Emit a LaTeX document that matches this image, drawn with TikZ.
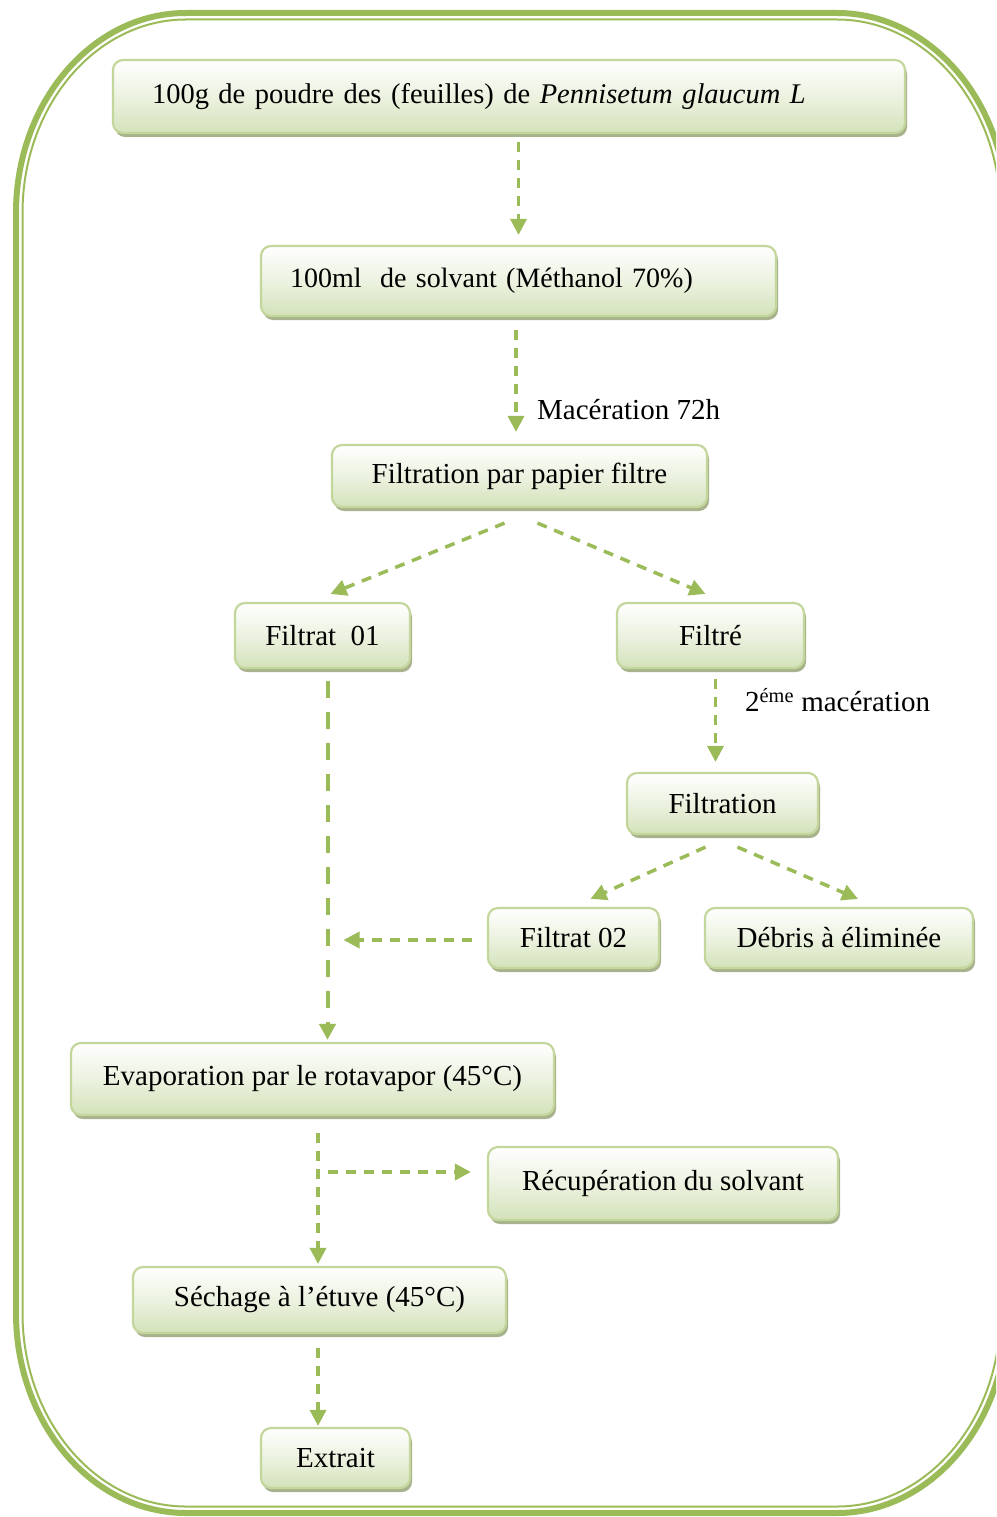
\documentclass[tikz,border=0pt]{standalone}
\usepackage{fontspec}
\setmainfont{Liberation Serif}
\usetikzlibrary{arrows.meta,calc,shadows}
\definecolor{gline}{RGB}{155,187,89}
\definecolor{bedge}{RGB}{195,214,155}
\definecolor{bfill}{RGB}{212,226,186}
\definecolor{bshadow}{RGB}{168,178,140}
\tikzset{
  stepbox/.style={draw=bedge, line width=2.2pt, rounded corners=10pt,
    top color=white, bottom color=bfill, middle color=white!55!bfill,
    general shadow={fill=bshadow, shadow xshift=2pt, shadow yshift=-4pt},
    font=\fontsize{29}{35}\selectfont, inner sep=0pt},
  flowarr/.style={draw=gline, line width=3.5pt, dash pattern=on 10pt off 8pt,
    -{Triangle[length=16pt,width=16pt]}},
  longarr/.style={flowarr, line width=4pt, dash pattern=on 17pt off 14pt},
  lbl/.style={font=\fontsize{29}{35}\selectfont, anchor=west, inner sep=0pt},
}
\begin{document}
\begin{tikzpicture}[x=1pt,y=-1pt]
\useasboundingbox (0,0) rectangle (996,1517);
\clip (0,0) rectangle (996,1517);
% frame
\draw[gline, line width=6pt]
  (186,13) -- (837,13)
  .. controls (930.9,13) and (1007,102.5) .. (1007,213)
  -- (1007,1313)
  .. controls (1007,1423.5) and (930.9,1513) .. (837,1513)
  -- (186,1513)
  .. controls (92.1,1513) and (16,1423.5) .. (16,1313)
  -- (16,213)
  .. controls (16,102.5) and (92.1,13) .. (186,13) -- cycle;
\draw[gline, line width=2pt]
  (186,19.5) -- (837,19.5)
  .. controls (927.3,19.5) and (1000.5,106.1) .. (1000.5,213)
  -- (1000.5,1313)
  .. controls (1000.5,1419.9) and (927.3,1506.5) .. (837,1506.5)
  -- (186,1506.5)
  .. controls (95.7,1506.5) and (22.5,1419.9) .. (22.5,1313)
  -- (22.5,213)
  .. controls (22.5,106.1) and (95.7,19.5) .. (186,19.5) -- cycle;
% boxes
\node[stepbox, font=\fontsize{28.5}{35}\selectfont, minimum height=73pt, text width=714pt, inner xsep=39pt, align=left] (n1) at (509,96.5)
  {100g de poudre des (feuilles) de \textit{Pennisetum glaucum L}};
\node[stepbox, font=\fontsize{28}{34}\selectfont, minimum height=70pt, text width=457pt, inner xsep=29pt, align=left] (n2) at (518.5,281)
  {100ml\ \ de solvant (Méthanol 70\%)};
\node[stepbox, minimum width=375pt, minimum height=62pt] (n3) at (519.5,476) {Filtration par papier filtre};
\node[stepbox, minimum width=175pt, minimum height=65pt] (n4) at (322.5,635.5) {Filtrat\ \ 01};
\node[stepbox, minimum width=187pt, minimum height=65pt] (n5) at (710.5,635.5) {Filtré};
\node[stepbox, minimum width=191pt, minimum height=61pt] (n6) at (722.5,803.5) {Filtration};
\node[stepbox, minimum width=171pt, minimum height=60pt] (n7) at (573.5,938) {Filtrat 02};
\node[stepbox, minimum width=268pt, minimum height=60pt] (n8) at (839,938) {Débris à éliminée};
\node[stepbox, minimum width=483pt, minimum height=72pt] (n9) at (312.5,1079) {Evaporation par le rotavapor (45°C)};
\node[stepbox, minimum width=350pt, minimum height=73pt] (n10) at (663,1183.5) {Récupération du solvant};
\node[stepbox, minimum width=373pt, minimum height=66pt] (n11) at (319.5,1300) {Séchage à l’étuve (45°C)};
\node[stepbox, minimum width=149pt, minimum height=60pt] (n12) at (335.5,1458) {Extrait};
% labels
\node[lbl] (lab1) at (537,410) {Macération 72h};
\node[lbl] (lab2) at (745,700) {2\textsuperscript{éme} macération};
% connectors
\draw[flowarr] ($(n1.south -| n2.north)+(0,8)$) -- ($(n2.north)+(0,-10)$);
\draw[flowarr] ($(n2.south)+(-2.5,13)$) -- ($(n2.south |- n3.north)+(-2.5,-12)$);
\draw[flowarr] ($(n3.south)+(-15,15)$) -- ($(n4.north)+(8,-8)$);
\draw[flowarr] ($(n3.south)+(18,15)$) -- ($(n5.north)+(-5,-8)$);
\draw[longarr] ($(n4.south)+(5,12)$) -- ($(n4.south |- n9.north)+(5,-2)$);
\draw[flowarr] ($(n5.south)+(5,10)$) -- ($(n5.south |- n6.north)+(5,-10)$);
\draw[flowarr] ($(n6.south)+(-17,12)$) -- ($(n7.north)+(17,-8)$);
\draw[flowarr] ($(n6.south)+(15,12)$) -- ($(n8.north)+(19,-8)$);
\draw[flowarr] ($(n7.west)+(-15,2)$) -- ($(n7.west -| n4.south)+(21,2)$);
\draw[flowarr] ($(n9.south)+(5.5,17)$) -- ($(n9.south |- n11.north)+(5.5,-2)$);
\draw[flowarr] ($(n9.south |- n10.west)+(15.5,-11.5)$) -- ($(n10.west)+(-16,-11.5)$);
\draw[flowarr] ($(n11.south)+(-1.5,14)$) -- ($(n11.south |- n12.north)+(-1.5,-1)$);
\end{tikzpicture}
\end{document}
